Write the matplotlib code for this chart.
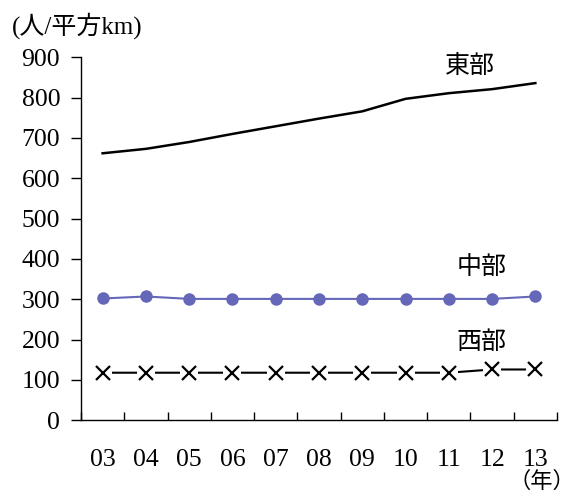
import numpy as np
import matplotlib.pyplot as plt

years = ["03", "04", "05", "06", "07", "08", "09", "10", "11", "12", "13"]
east = [662, 673, 690, 710, 729, 748, 766, 797, 811, 821, 836]
central = [302, 307, 301, 301, 301, 301, 301, 301, 301, 301, 307]
west = [118, 118, 118, 118, 118, 118, 118, 118, 118, 126, 126]

fam = ["Liberation Serif", "Noto Sans CJK JP"]
cjk = ["Noto Sans CJK JP"]
plt.rcParams["font.family"] = fam

fig = plt.figure(figsize=(5.76, 4.96), dpi=100)
ax = fig.add_axes([0.1406, 0.1526, 0.8264, 0.7319])

x = np.arange(len(years))

ax.plot(x, east, color="black", lw=1.8, zorder=3)
ax.plot(x, central, color="#6567b9", lw=1.5, marker="o", ms=9,
        markeredgewidth=0, zorder=3)
# west: line broken around each x marker
ax.plot(x, west, color="black", lw=1.5, zorder=2)
ax.plot(x, west, ls="none", marker="s", ms=13, color="white",
        markeredgewidth=0, zorder=3)
ax.plot(x, west, ls="none", marker="x", ms=10, color="black",
        markeredgewidth=1.6, zorder=4)

ax.set_xlim(-0.5, len(years) - 0.5)
ax.set_ylim(0, 900)
ax.set_yticks(range(0, 901, 100))
ax.tick_params(axis="y", direction="out", length=7, width=1, labelsize=18.5, pad=8)

# ticks between categories, labels at centres
ax.set_xticks(np.arange(-0.5, len(years), 1.0))
ax.set_xticklabels([])
ax.tick_params(axis="x", which="major", direction="in", length=6, width=1)
ax.set_xticks(x, minor=True)
ax.set_xticklabels(years, minor=True)
ax.tick_params(axis="x", which="minor", length=0, labelsize=18.5, pad=21)

for s in ["top", "right"]:
    ax.spines[s].set_visible(False)
for s in ["left", "bottom"]:
    ax.spines[s].set_linewidth(1)

fig.text(0.02, 0.948, "(人/平方km)", fontsize=18, family=fam, va="center")
fig.text(0.998, 0.006, "（年）", fontsize=16, family=cjk, va="bottom", ha="right")
ax.text(8.5, 875, "東部", fontsize=18, family=cjk, ha="center", va="center")
ax.text(8.75, 378, "中部", fontsize=18, family=cjk, ha="center", va="center")
ax.text(8.75, 193, "西部", fontsize=18, family=cjk, ha="center", va="center")

fig.savefig("out.png", dpi=100)
